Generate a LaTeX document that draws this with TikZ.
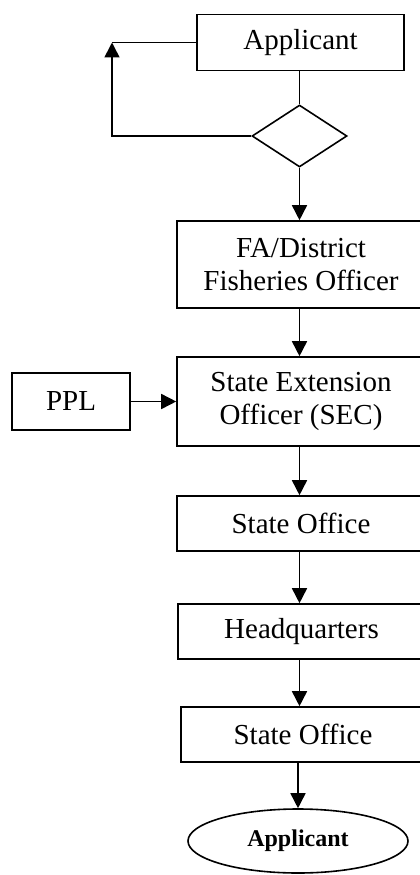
\documentclass[tikz,border=0pt]{standalone}
\usepackage{fontspec}
\setmainfont{Liberation Serif}
\usetikzlibrary{shapes.geometric,arrows.meta}
\begin{document}
\begin{tikzpicture}[x=1pt,y=-1pt,
  lw/.style={line width=1.6pt},
  arr/.style={lw,-{Triangle[length=15pt,width=15pt]}},
  boxnode/.style={draw,lw,rectangle,inner sep=0pt,align=center,font=\fontsize{29}{33}\selectfont},
  decnode/.style={draw,lw,diamond,inner sep=0pt,minimum width=95pt,minimum height=62pt},
  endnode/.style={draw,lw,ellipse,inner sep=0pt,minimum width=220pt,minimum height=64pt,font=\bfseries\fontsize{24}{28}\selectfont}]
\useasboundingbox (0,0) rectangle (420,875);
\node[boxnode,minimum width=207pt,minimum height=56pt] (app) at (300.5,42.5) {Applicant};
\node[decnode] (dec) at (299.5,136) {};
\node[boxnode,minimum width=248pt,minimum height=87pt] (fa) at (301,264.5) {FA/District\\Fisheries Officer};
\node[boxnode,minimum width=248pt,minimum height=89pt] (sec) at (301,401.5) {State Extension\\Officer (SEC)};
\node[boxnode,minimum width=118pt,minimum height=57pt] (ppl) at (71,401.5) {PPL};
\node[boxnode,minimum width=248pt,minimum height=55pt] (so1) at (301,523.5) {State Office};
\node[boxnode,minimum width=247pt,minimum height=55pt] (hq) at (301.5,631.5) {Headquarters};
\node[boxnode,minimum width=244pt,minimum height=55pt] (so2) at (303,734.5) {State Office};
\node[endnode] (ell) at (298,841) {Applicant};
\coordinate (axis) at (299.5,0);
\coordinate (corner) at (112,42.5);
% connectors
\draw[lw] (app.south -| dec.north) -- (dec.north);
\draw[lw] (app.west) -- (corner);
\draw[arr] (dec.west) -| (corner);
\draw[arr] (dec.south) -- (dec.south |- fa.north);
\draw[arr] (fa.south -| axis) -- (sec.north -| axis);
\draw[arr] (ppl.east) -- (sec.west);
\draw[arr] (sec.south -| axis) -- (so1.north -| axis);
\draw[arr] (so1.south -| axis) -- (hq.north -| axis);
\draw[arr] (hq.south -| axis) -- (so2.north -| axis);
\draw[arr] (so2.south -| ell.north) -- (ell.north);
\end{tikzpicture}
\end{document}
